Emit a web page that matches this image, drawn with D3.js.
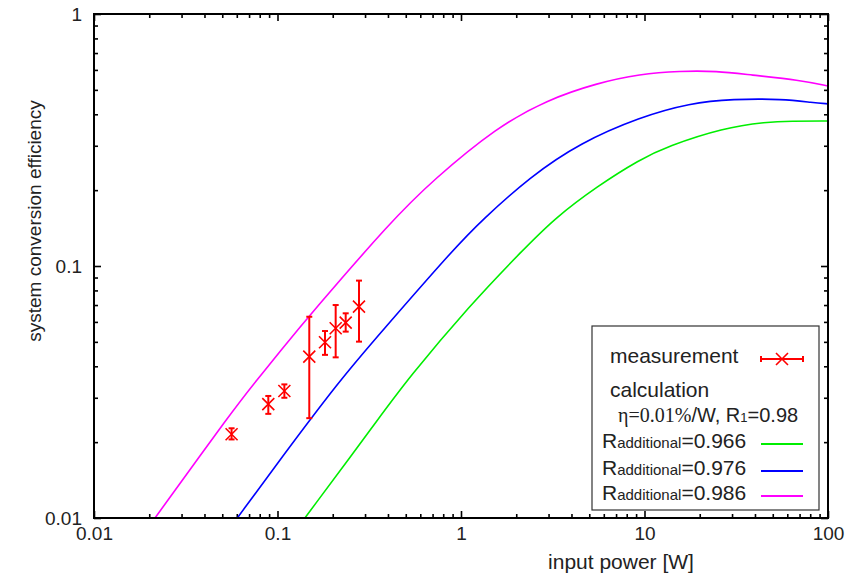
<!DOCTYPE html>
<html>
<head>
<meta charset="utf-8">
<script src="https://cdn.jsdelivr.net/npm/d3@7"></script>
<style>
  body { margin: 0; background: #fff; }
  svg { display: block; font-family: "Liberation Sans", Arial, sans-serif; }
  .tick text { font-size: 19px; fill: #222; }
</style>
</head>
<body>
<svg id="chart" width="860" height="575"></svg>
<script>
// measurement points: input power [W], efficiency, error low/high
var measPower = [0.0562, 0.0891, 0.109, 0.149, 0.1815, 0.2075, 0.2353, 0.278];
var measEff   = [0.0215, 0.0283, 0.0319, 0.0437, 0.0498, 0.0566, 0.0596, 0.0690];
var measLow   = [0.0205, 0.0259, 0.0300, 0.0249, 0.0444, 0.0434, 0.0549, 0.0501];
var measHigh  = [0.0227, 0.0305, 0.0339, 0.0629, 0.0552, 0.0700, 0.0649, 0.0875];

// calculated curves
var greenX   = [0.141, 0.362, 0.508, 1.12, 2.18, 3.25, 5.51, 9.45, 13.3, 26.8, 46.5, 62.1, 100];
var greenY   = [0.01, 0.0252, 0.0353, 0.070, 0.116, 0.155, 0.207, 0.265, 0.298, 0.353, 0.373, 0.376, 0.376];
var blueX    = [0.0604, 0.103, 0.219, 0.362, 0.904, 1.30, 2.38, 4.45, 9.45, 17.7, 30.3, 56.9, 82.8, 100];
var blueY    = [0.01, 0.0170, 0.0353, 0.054, 0.116, 0.152, 0.226, 0.308, 0.390, 0.443, 0.460, 0.460, 0.445, 0.440];
var magentaX = [0.0215, 0.0572, 0.0773, 0.103, 0.150, 0.421, 0.703, 1.57, 2.94, 5.51, 9.45, 15.6, 24.8, 37.6, 70.3, 100];
var magentaY = [0.01, 0.0268, 0.0353, 0.0457, 0.0639, 0.152, 0.219, 0.356, 0.456, 0.532, 0.578, 0.594, 0.594, 0.573, 0.547, 0.518];

var xMajor = [0.01, 0.1, 1, 10, 100];
var yMajor = [0.01, 0.1, 1];
var curveLabels = ["0.966", "0.976", "0.986"];
var curveColors = ["#00ee00", "#0000ff", "#ff00ff"];

(function(){

var svg = d3.select("#chart");
var pLeft = 94, pRight = 828, pTop = 14, pBottom = 518;

var x = d3.scaleLog().domain([0.01, 100]).range([pLeft, pRight]);
var y = d3.scaleLog().domain([0.01, 1]).range([pBottom, pTop]);

function minors(major){
    var a = [];
    for(var i = 0; i < major.length - 1; i++)
        for(var k = 2; k <= 9; k++) a.push(major[i] * k);
    return a;
}
var fmt = function(d){ return d3.format("")(+d.toPrecision(3)); };

// ticks, all four sides, pointing inward
function drawAxis(axis, tx, ty, major, withLabels){
    var g = svg.append("g").attr("transform", "translate(" + tx + "," + ty + ")");
    g.call(axis().tickValues(major).tickSize(-7).tickSizeOuter(0)
        .tickFormat(withLabels ? fmt : "").tickPadding(withLabels ? 9 : 3));
    var m = svg.append("g").attr("transform", "translate(" + tx + "," + ty + ")");
    m.call(axis().tickValues(minors(major)).tickSize(-4).tickSizeOuter(0).tickFormat(""));
    [g, m].forEach(function(s){
        s.select(".domain").remove();
        s.selectAll(".tick line").attr("stroke", "#000").attr("stroke-width", 1.6);
    });
    return g;
}
drawAxis(function(){ return d3.axisBottom(x); }, 0, pBottom, xMajor, true);
drawAxis(function(){ return d3.axisTop(x); }, 0, pTop, xMajor, false);
var ly = drawAxis(function(){ return d3.axisLeft(y); }, pLeft, 0, yMajor, true);
ly.selectAll(".tick text").attr("x", -12);
drawAxis(function(){ return d3.axisRight(y); }, pRight, 0, yMajor, false);

// curves
var line = d3.line()
    .x(function(d){ return x(d[0]); })
    .y(function(d){ return y(d[1]); })
    .curve(d3.curveBasis);

svg.append("clipPath").attr("id", "plotclip")
    .append("rect").attr("x", pLeft).attr("y", pTop)
    .attr("width", pRight - pLeft).attr("height", pBottom - pTop);

var series = [
    d3.zip(greenX, greenY),
    d3.zip(blueX, blueY),
    d3.zip(magentaX, magentaY)
];
svg.append("g").attr("clip-path", "url(#plotclip)")
    .selectAll("path").data(series).enter().append("path")
    .attr("d", line)
    .attr("fill", "none")
    .attr("stroke", function(d, i){ return curveColors[i]; })
    .attr("stroke-width", 1.6);

// measurement with error bars
var red = "#ff0000";
var meas = svg.append("g").attr("stroke", red).attr("stroke-width", 2).attr("fill", "none");
measPower.forEach(function(p, i){
    var cx = x(p), cy = y(measEff[i]);
    var y0 = y(measLow[i]), y1 = y(measHigh[i]);
    meas.append("line").attr("x1", cx).attr("x2", cx).attr("y1", y0).attr("y2", y1);
    meas.append("line").attr("x1", cx - 3).attr("x2", cx + 3).attr("y1", y0).attr("y2", y0);
    meas.append("line").attr("x1", cx - 3).attr("x2", cx + 3).attr("y1", y1).attr("y2", y1);
    meas.append("path").attr("stroke-width", 1.6)
        .attr("d", "M" + (cx - 6) + "," + (cy - 6) + "L" + (cx + 6) + "," + (cy + 6) +
                   "M" + (cx - 6) + "," + (cy + 6) + "L" + (cx + 6) + "," + (cy - 6));
});

// frame
svg.append("rect").attr("x", pLeft).attr("y", pTop)
    .attr("width", pRight - pLeft).attr("height", pBottom - pTop)
    .attr("fill", "none").attr("stroke", "#000").attr("stroke-width", 2);

// axis titles
svg.append("text").attr("x", 621).attr("y", 569).attr("text-anchor", "middle")
    .attr("font-size", 21).attr("fill", "#222").text("input power [W]");
svg.append("text").attr("transform", "translate(41,221) rotate(-90)")
    .attr("text-anchor", "middle").attr("font-size", 19).attr("fill", "#222")
    .text("system conversion efficiency");

// legend
var lg = svg.append("g");
lg.append("rect").attr("x", 592).attr("y", 326).attr("width", 227).attr("height", 184)
    .attr("fill", "#fff").attr("stroke", "#333").attr("stroke-width", 1.2);
lg.append("text").attr("x", 610).attr("y", 363).attr("font-size", 21).attr("fill", "#222").text("measurement");
lg.append("text").attr("x", 610).attr("y", 397).attr("font-size", 21).attr("fill", "#222").text("calculation");

var eta = lg.append("text").attr("x", 618).attr("y", 422).attr("font-size", 20).attr("fill", "#222");
eta.append("tspan").attr("font-family", "'Liberation Serif', 'DejaVu Serif', serif").text("η=0.01%");
eta.append("tspan").text("/W, R");
eta.append("tspan").attr("font-size", 13).text("1");
eta.append("tspan").text("=0.98");

var lx0 = 761, lx1 = 803;
var mk = lg.append("g").attr("stroke", red).attr("stroke-width", 2);
mk.append("line").attr("x1", lx0).attr("x2", lx1).attr("y1", 359).attr("y2", 359);
mk.append("line").attr("x1", lx0).attr("x2", lx0).attr("y1", 356).attr("y2", 362);
mk.append("line").attr("x1", lx1).attr("x2", lx1).attr("y1", 356).attr("y2", 362);
mk.append("path").attr("stroke-width", 1.6)
    .attr("d", "M776,353L788,365M776,365L788,353");

var rowY = [448, 475, 500];
curveLabels.forEach(function(lab, i){
    var t = lg.append("text").attr("x", 602).attr("y", rowY[i]).attr("font-size", 21).attr("fill", "#222");
    t.append("tspan").text("R");
    t.append("tspan").attr("font-size", 15).text("additional");
    t.append("tspan").text("=" + lab);
    lg.append("line").attr("x1", lx0).attr("x2", lx1)
        .attr("y1", rowY[i] - 4).attr("y2", rowY[i] - 4)
        .attr("stroke", curveColors[i]).attr("stroke-width", 2);
});

})();
</script>
</body>
</html>
